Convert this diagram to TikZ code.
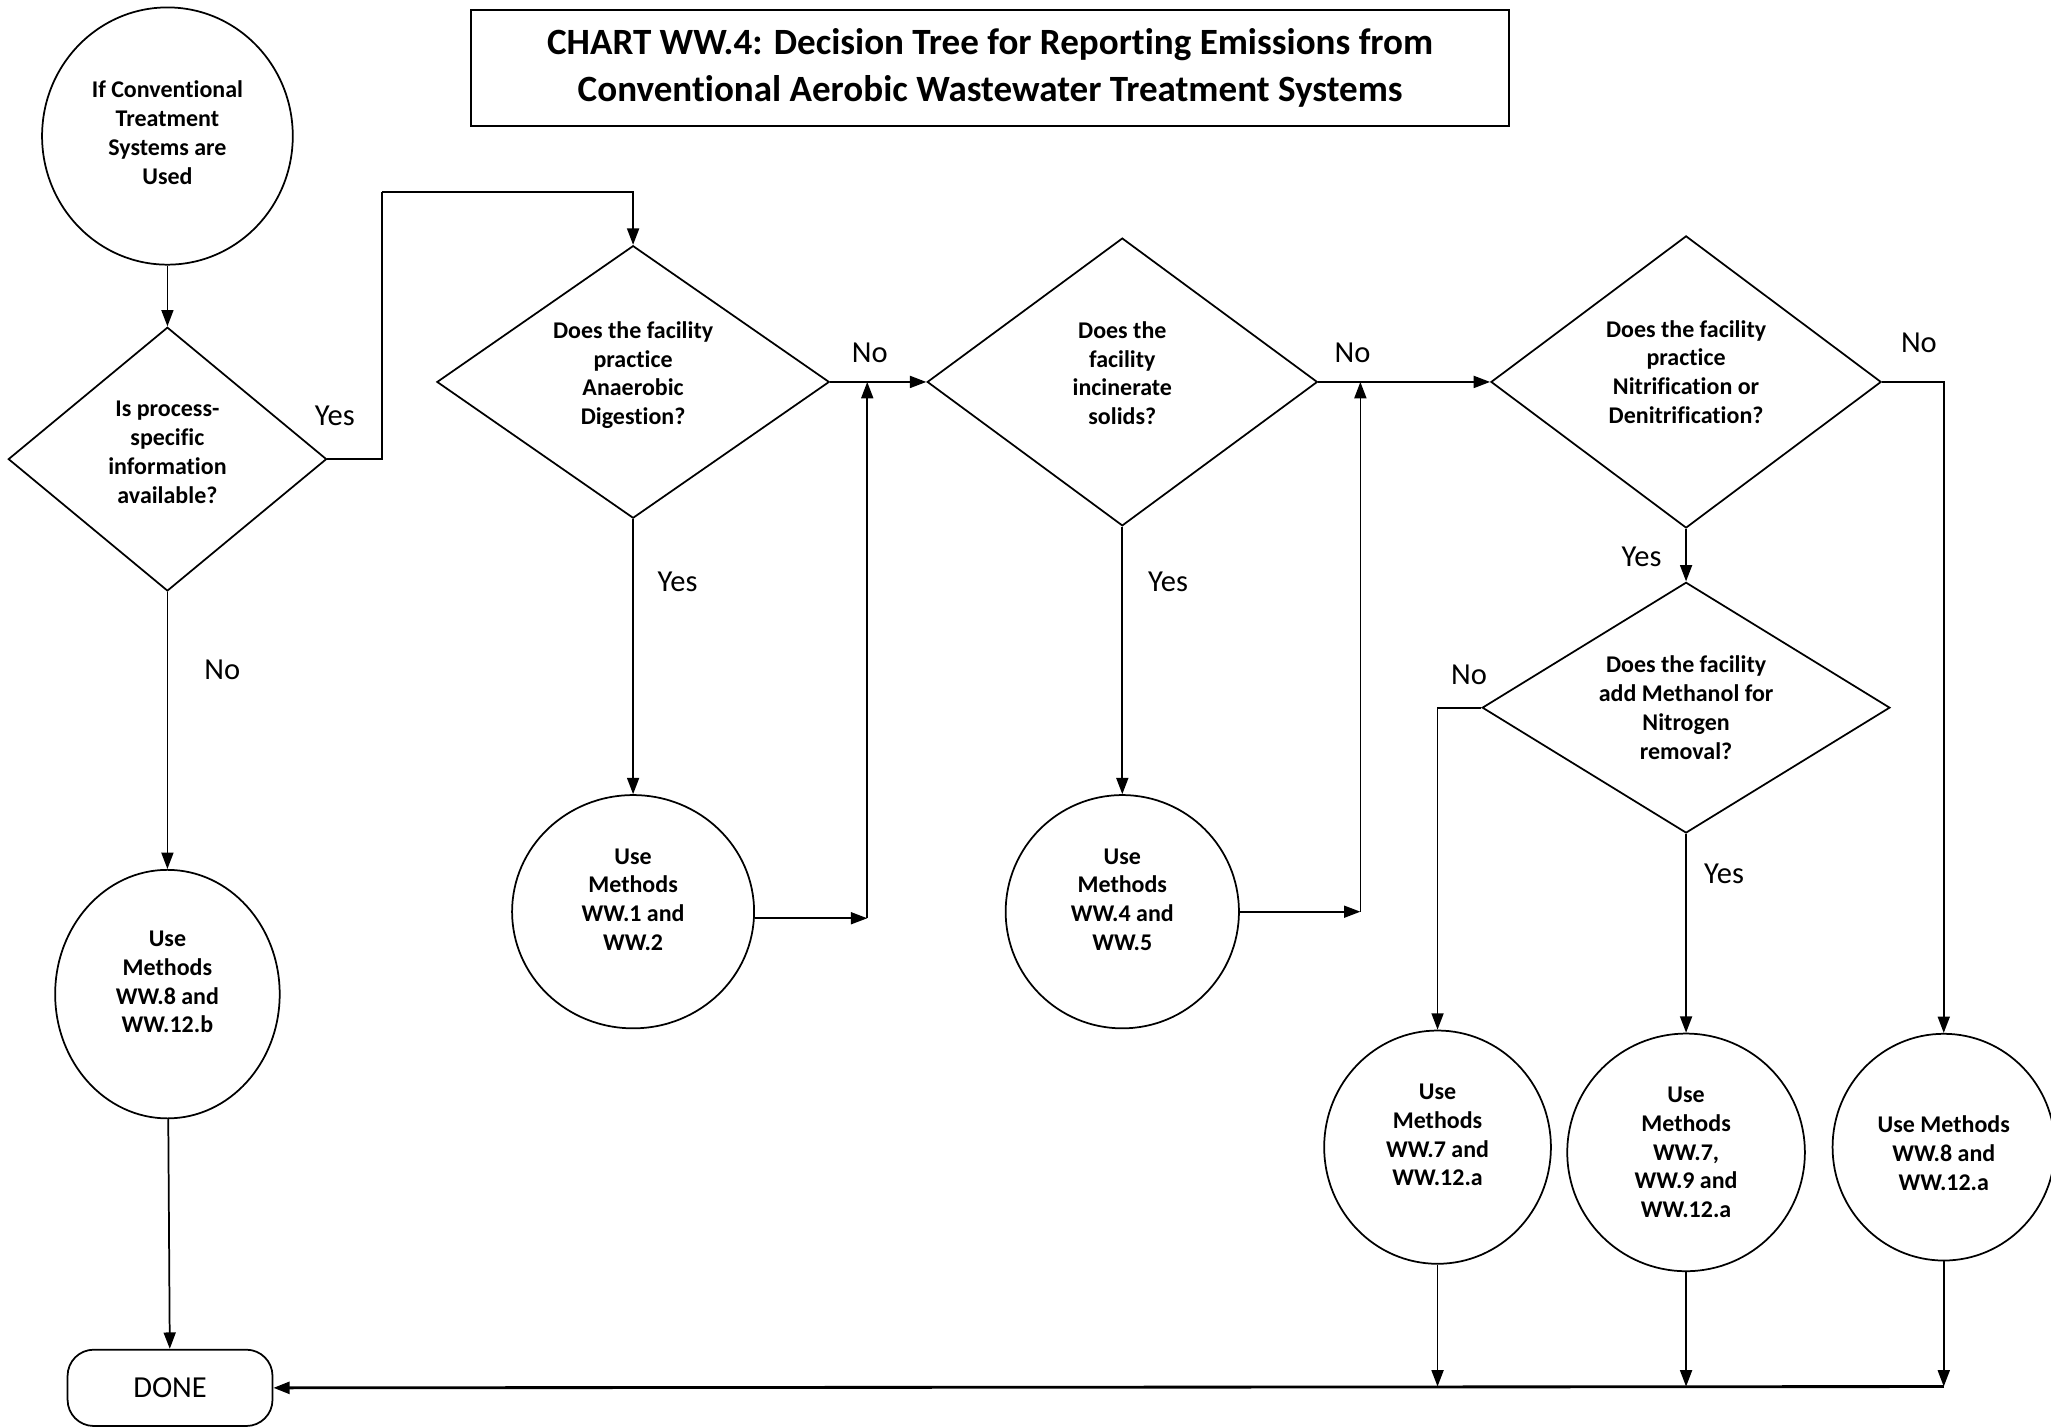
\documentclass[tikz,border=0pt]{standalone}
\usepackage{fontspec}
\setmainfont{Carlito}[Ligatures=NoCommon]
\usetikzlibrary{shapes.geometric, arrows.meta, positioning}

\begin{document}
\begin{tikzpicture}[x=0.6pt, y=-0.6pt,
  dec/.style={draw, diamond, shape aspect=1.5, inner sep=0pt, line width=0.8pt, align=center, font=\fontsize{11}{13.2}\selectfont\bfseries},
  meth/.style={draw, ellipse, inner sep=0pt, line width=0.8pt, align=center, font=\fontsize{11}{13.2}\selectfont\bfseries},
  ans/.style={font=\fontsize{14}{16}\selectfont},
  arr/.style={-{Triangle[length=7.5pt, width=5.5pt]}, line width=0.8pt}]
  \useasboundingbox (0,0) rectangle (1568,1091);

  % Title
  \node[draw, line width=0.8pt, minimum width=476pt, minimum height=53pt, align=center, font=\fontsize{17}{21.6}\selectfont\bfseries] (title) at (757,52) {
    CHART WW.4: Decision Tree for Reporting Emissions from\\
    Conventional Aerobic Wastewater Treatment Systems
  };

  % Start and first question
  \node[meth, minimum width=115pt, minimum height=118pt] (start) at (128,104) {If Conventional\\Treatment\\Systems are\\Used\\[-10pt]\mbox{}};
  \node[dec, minimum width=146pt, minimum height=121pt] (q1) at (128,351) {Is process-\\specific\\information\\available?\\[-7pt]\mbox{}};
  \node[meth, minimum width=103pt, minimum height=114pt] (m1) at (128,760) {Use\\Methods\\WW.8 and\\WW.12.b\\[-2pt]\mbox{}};
  \node[draw, rounded corners=12pt, line width=0.8pt, minimum width=94pt, minimum height=35pt, font=\fontsize{14}{16}\selectfont] (done) at (130,1061) {DONE};

  % Anaerobic digestion
  \node[dec, minimum width=180pt, minimum height=125pt] (q2) at (484,292) {Does the facility\\practice\\Anaerobic\\Digestion?\\[-5pt]\mbox{}};
  \node[meth, minimum width=111pt, minimum height=107pt] (m2) at (484,697) {Use\\Methods\\WW.1 and\\WW.2\\[-2pt]\mbox{}};

  % Incineration
  \node[dec, minimum width=179pt, minimum height=132pt] (q3) at (858,292) {Does the\\facility\\incinerate\\solids?\\[-5pt]\mbox{}};
  \node[meth, minimum width=107pt, minimum height=107pt] (m3) at (858,697) {Use\\Methods\\WW.4 and\\WW.5\\[-2pt]\mbox{}};

  % Nitrification
  \node[dec, minimum width=179pt, minimum height=134pt] (q4) at (1289,292) {Does the facility\\practice\\Nitrification or\\Denitrification?\\[-4pt]\mbox{}};
  \node[dec, minimum width=187pt, minimum height=115pt] (q5) at (1289,541) {Does the facility\\add Methanol for\\Nitrogen\\removal?};
  \node[meth, minimum width=104pt, minimum height=107pt] (m5) at (1099,877) {Use\\Methods\\WW.7 and\\WW.12.a\\[-2pt]\mbox{}};
  \node[meth, minimum width=109pt, minimum height=109pt] (m6) at (1289,881) {Use\\Methods\\WW.7,\\WW.9 and\\WW.12.a};
  \node[meth, minimum width=102pt, minimum height=104pt] (m7) at (1486,877) {\mbox{}\\Use Methods\\WW.8 and\\WW.12.a};

  % Junctions
  \coordinate (k1) at (292,147);
  \coordinate (j1) at (663,702);
  \coordinate (j1t) at (663,292);
  \coordinate (j2) at (1040,697);
  \coordinate (j2t) at (1040,292);
  \coordinate (b5) at (1099,1060);
  \coordinate (b6) at (1289,1060);
  \coordinate (b7) at (1486,1060);

  % Connectors
  \draw[arr] (start) -- (q1);
  \draw[line width=0.8pt] (q1.east) -| (k1);
  \draw[arr] (k1) -| (q2.north);
  \draw[arr] (q1) -- (m1);
  \draw[arr] (m1) -- (done);
  \draw[arr] (q2.east) -- (q3.west);
  \draw[arr] (q2) -- (m2);
  \draw[arr] (m2.east |- j1) -- (j1);
  \draw[arr] (j1) -- (j1t);
  \draw[arr] (q3.east) -- (q4.west);
  \draw[arr] (q3) -- (m3);
  \draw[arr] (m3.east) -- (j2);
  \draw[arr] (j2) -- (j2t);
  \draw[arr] (q4.east) -| (m7.north);
  \draw[arr] (q4) -- (q5);
  \draw[arr] (q5.west) -| (m5.north);
  \draw[arr] (q5) -- (m6);
  \draw[arr] (m5) -- (b5);
  \draw[arr] (m6) -- (b6);
  \draw[arr] (m7) -- (b7);
  \draw[arr, line width=1.3pt] (b7) -- (done.east);

  % Answers
  \node[ans] (a1) at (256,318) {Yes};
  \node[ans] (a2) at (170,512) {No};
  \node[ans] (a3) at (665,270) {No};
  \node[ans] (a4) at (518,445) {Yes};
  \node[ans] (a5) at (1034,270) {No};
  \node[ans] (a6) at (893,445) {Yes};
  \node[ans] (a7) at (1467,262) {No};
  \node[ans] (a8) at (1255,426) {Yes};
  \node[ans] (a9) at (1123,516) {No};
  \node[ans] (a10) at (1318,668) {Yes};
\end{tikzpicture}
\end{document}
